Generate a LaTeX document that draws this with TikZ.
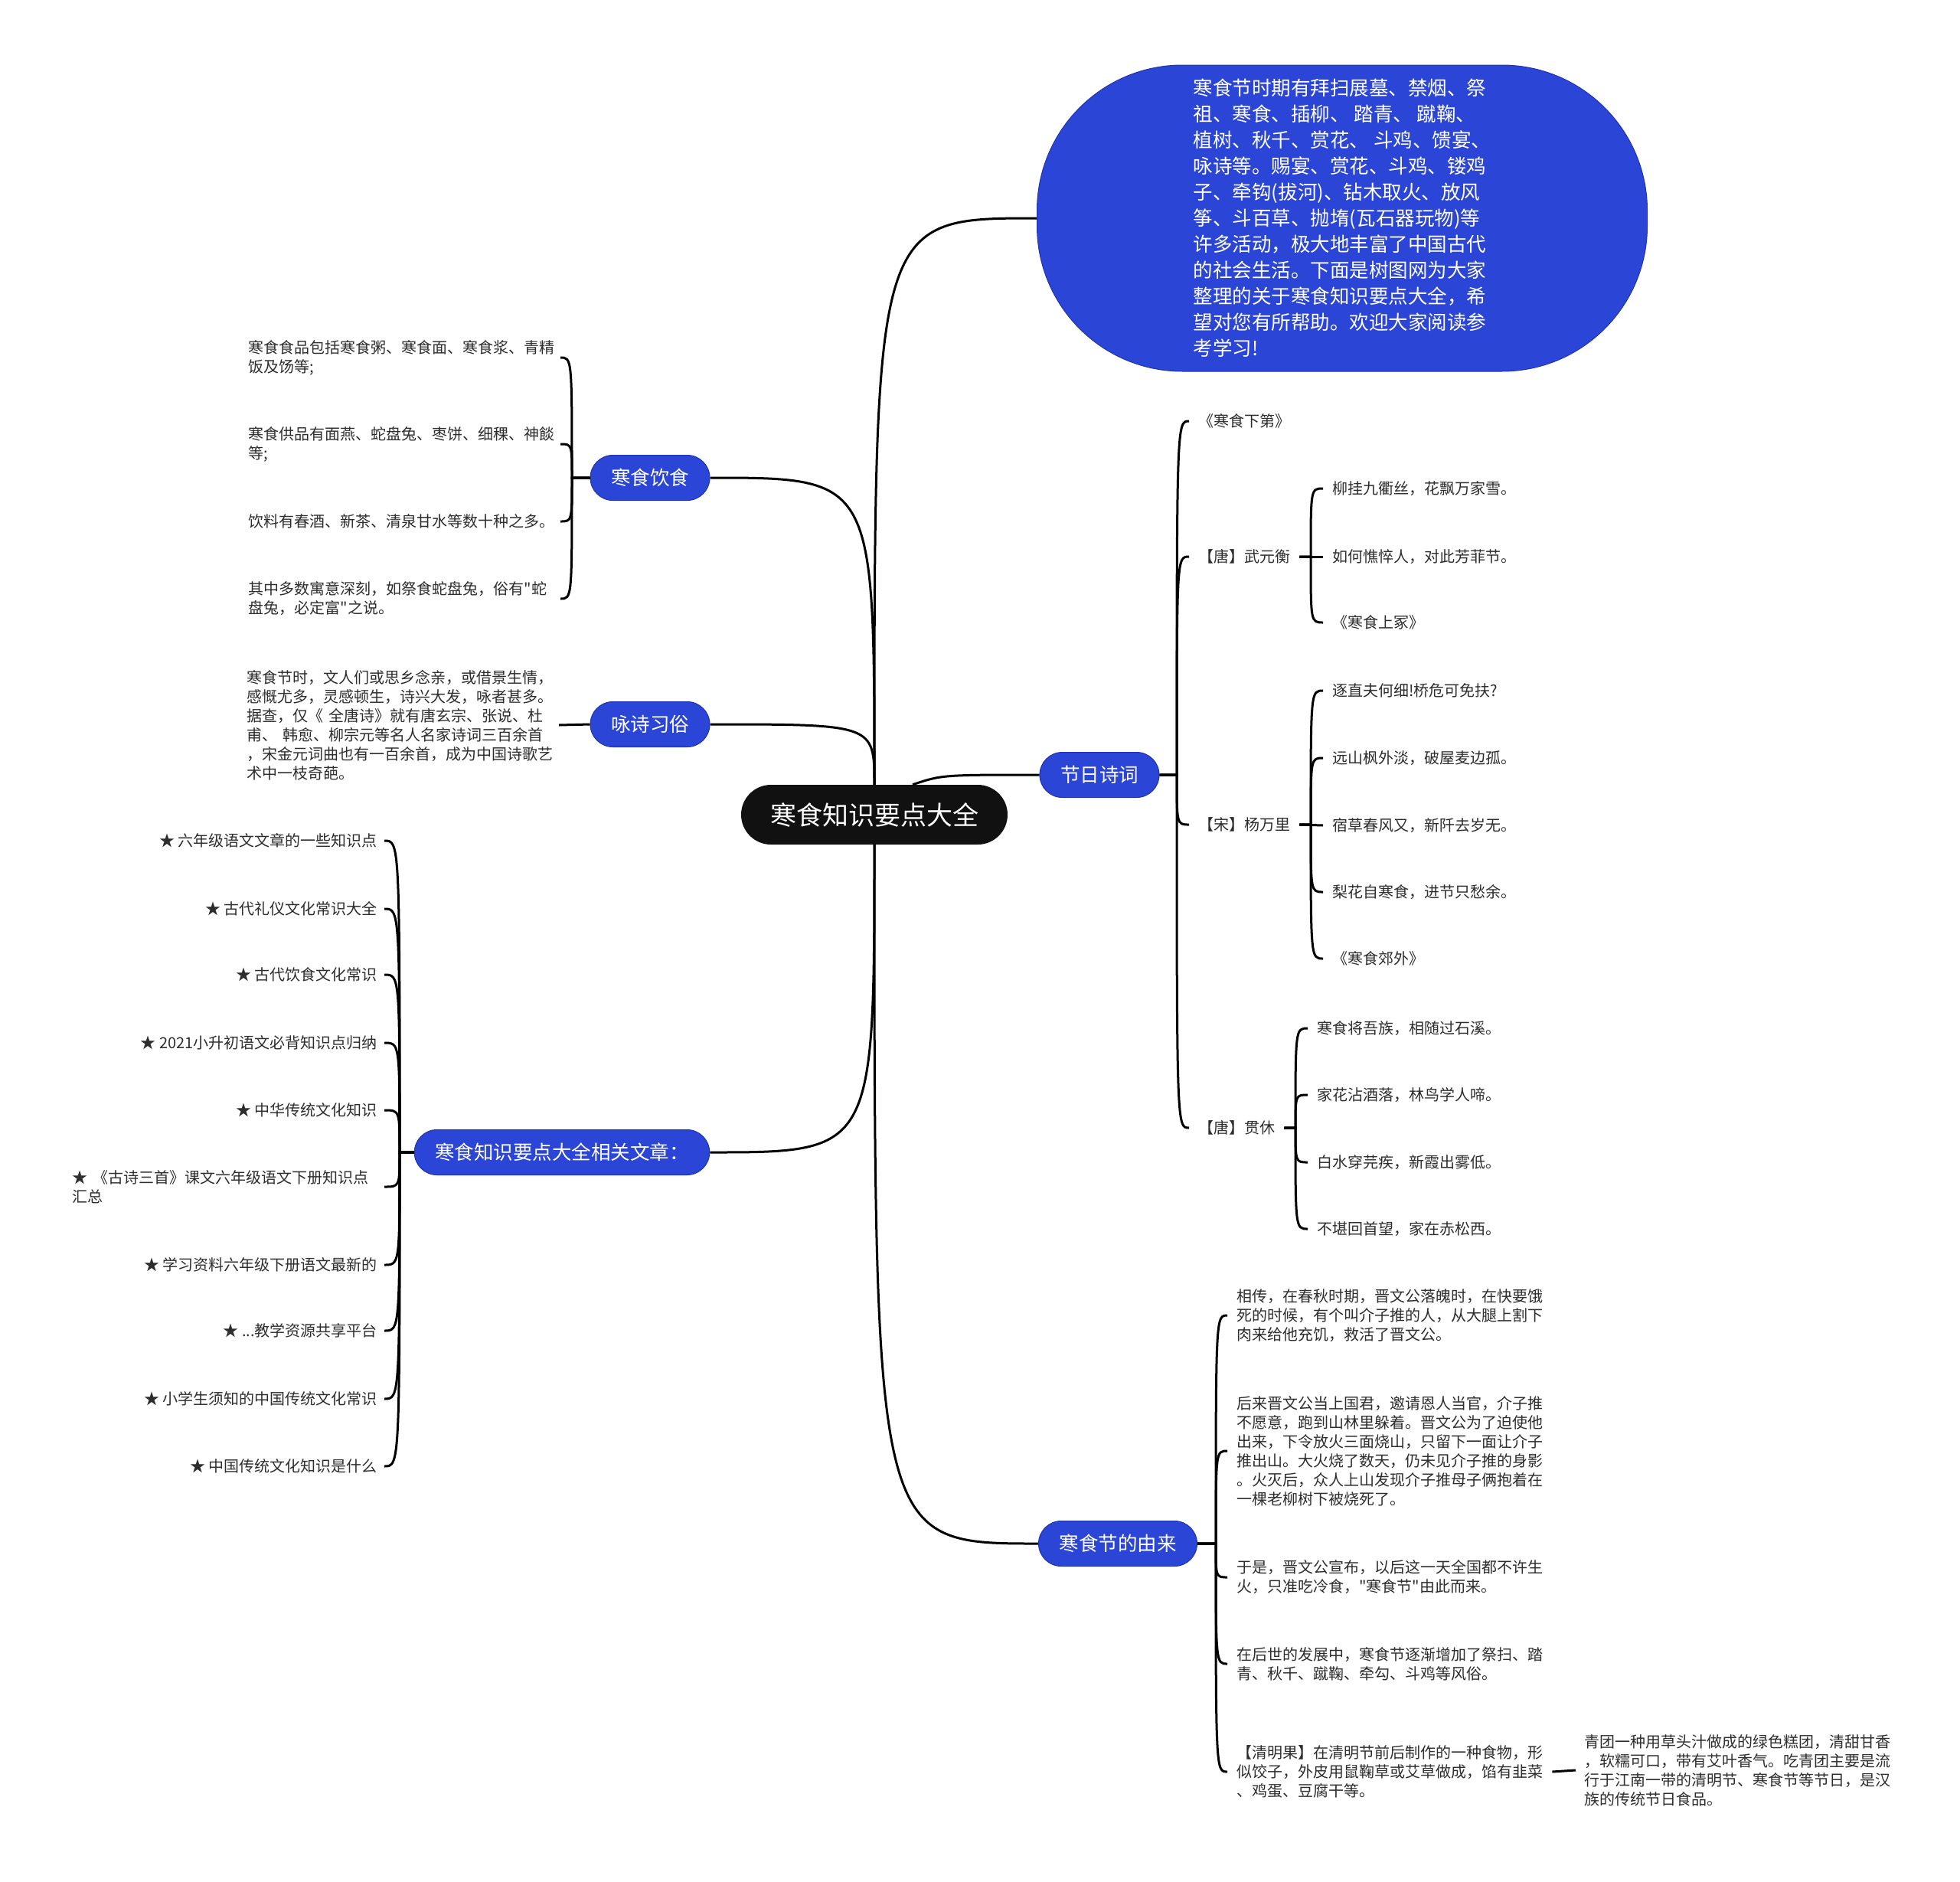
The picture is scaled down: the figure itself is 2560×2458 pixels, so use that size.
\documentclass[tikz,border=0pt]{standalone}
\usepackage{fontspec}
\setmainfont{Noto Sans CJK SC}[Ligatures=TeXOff]

\begin{document}
\begin{tikzpicture}[x=1pt,y=-1pt,
		link/.style={draw=black,line width=3pt},
		rootnode/.style={fill=mapblack,text=white,rounded corners=39pt,minimum height=78pt,inner xsep=38pt,font=\fontsize{34}{40}\selectfont},
		topic/.style={fill=mapblue,draw=mapedge,line width=1pt,text=white,rounded corners=29.5pt,minimum height=59pt,inner xsep=27pt,font=\fontsize{25.5}{30}\selectfont},
		leaf/.style={text=leafgray,inner xsep=12pt,inner ysep=2pt,align=left,anchor=west,font=\fontsize{20}{25}\selectfont},
		leftleaf/.style={leaf,anchor=east,inner xsep=0pt,text width=407pt},
		starleaf/.style={leaf,anchor=east,inner xsep=9pt}]
		\definecolor{mapblack}{RGB}{17,17,17}
		\definecolor{mapblue}{RGB}{43,69,214}
		\definecolor{mapedge}{RGB}{30,50,180}
		\definecolor{leafgray}{RGB}{45,45,45}

		\fill[white] (0,0) rectangle (2560,2458);
		\useasboundingbox (0,0) rectangle (2560,2458);

		\node[rootnode] (root) at (1142,1064) {寒食知识要点大全};

		\node[topic,minimum width=797pt,minimum height=400pt,rounded corners=190pt,align=left,font=\fontsize{25.5}{34}\selectfont] (intro) at (1753,285) {寒食节时期有拜扫展墓、禁烟、祭\\祖、寒食、插柳、 踏青、 蹴鞠、\\植树、秋千、赏花、 斗鸡、馈宴、\\咏诗等。赐宴、赏花、斗鸡、镂鸡\\子、牵钩(拔河)、钻木取火、放风\\筝、斗百草、抛堶(瓦石器玩物)等\\许多活动，极大地丰富了中国古代\\的社会生活。下面是树图网为大家\\整理的关于寒食知识要点大全，希\\望对您有所帮助。欢迎大家阅读参\\考学习!};
		\node[topic] (food) at (849,624) {寒食饮食};
		\node[topic] (custom) at (849,946) {咏诗习俗};
		\node[topic] (related) at (734,1505) {寒食知识要点大全相关文章：};
		\node[topic] (poems) at (1436,1012) {节日诗词};
		\node[topic] (origin) at (1460,2016) {寒食节的由来};

		\node[leftleaf] (f1) at (732,467) {寒食食品包括寒食粥、寒食面、寒食浆、青精\\饭及饧等;};
		\node[leftleaf] (f2) at (732,580) {寒食供品有面燕、蛇盘兔、枣饼、细稞、神餤\\等;};
		\node[leftleaf] (f3) at (732,681) {饮料有春酒、新茶、清泉甘水等数十种之多。};
		\node[leftleaf] (f4) at (732,782) {其中多数寓意深刻，如祭食蛇盘兔，俗有"蛇\\盘兔，必定富"之说。};

		\node[leftleaf] (c1) at (730,947) {寒食节时，文人们或思乡念亲，或借景生情，\\感慨尤多，灵感顿生，诗兴大发，咏者甚多。\\据查，仅《 全唐诗》就有唐玄宗、张说、杜\\甫、 韩愈、柳宗元等名人名家诗词三百余首\\，宋金元词曲也有一百余首，成为中国诗歌艺\\术中一枝奇葩。};

		\node[starleaf] (r1) at (502,1098) {★ 六年级语文文章的一些知识点};
		\node[starleaf] (r2) at (502,1187) {★ 古代礼仪文化常识大全};
		\node[starleaf] (r3) at (502,1273) {★ 古代饮食文化常识};
		\node[starleaf] (r4) at (502,1362) {★ 2021小升初语文必背知识点归纳};
		\node[starleaf] (r5) at (502,1450) {★ 中华传统文化知识};
		\node[starleaf,text width=398pt] (r6) at (502,1550) {★ 《古诗三首》课文六年级语文下册知识点\\汇总};
		\node[starleaf] (r7) at (502,1652) {★ 学习资料六年级下册语文最新的};
		\node[starleaf] (r8) at (502,1738) {★ ...教学资源共享平台};
		\node[starleaf] (r9) at (502,1827) {★ 小学生须知的中国传统文化常识};
		\node[starleaf] (r10) at (502,1915) {★ 中国传统文化知识是什么};

		\node[leaf] (p1) at (1553,550) {《寒食下第》};
		\node[leaf] (p2) at (1553,727) {【唐】武元衡};
		\node[leaf] (p3) at (1553,1077) {【宋】杨万里};
		\node[leaf] (p4) at (1553,1473) {【唐】贯休};

		\node[leaf] (w1) at (1728,638) {柳挂九衢丝，花飘万家雪。};
		\node[leaf] (w2) at (1728,727) {如何憔悴人，对此芳菲节。};
		\node[leaf] (w3) at (1728,813) {《寒食上冢》};

		\node[leaf] (y1) at (1728,902) {逐直夫何细!桥危可免扶?};
		\node[leaf] (y2) at (1728,990) {远山枫外淡，破屋麦边孤。};
		\node[leaf] (y3) at (1728,1078) {宿草春风又，新阡去岁无。};
		\node[leaf] (y4) at (1728,1165) {梨花自寒食，进节只愁余。};
		\node[leaf] (y5) at (1728,1252) {《寒食郊外》};

		\node[leaf] (g1) at (1708,1343) {寒食将吾族，相随过石溪。};
		\node[leaf] (g2) at (1708,1430) {家花沾酒落，林鸟学人啼。};
		\node[leaf] (g3) at (1708,1518) {白水穿芫疾，新霞出雾低。};
		\node[leaf] (g4) at (1708,1605) {不堪回首望，家在赤松西。};

		\node[leaf] (o1) at (1603,1718) {相传，在春秋时期，晋文公落魄时，在快要饿\\死的时候，有个叫介子推的人，从大腿上割下\\肉来给他充饥，救活了晋文公。};
		\node[leaf] (o2) at (1603,1895) {后来晋文公当上国君，邀请恩人当官，介子推\\不愿意，跑到山林里躲着。晋文公为了迫使他\\出来，下令放火三面烧山，只留下一面让介子\\推出山。大火烧了数天，仍未见介子推的身影\\。火灭后，众人上山发现介子推母子俩抱着在\\一棵老柳树下被烧死了。};
		\node[leaf] (o3) at (1603,2060) {于是，晋文公宣布，以后这一天全国都不许生\\火，只准吃冷食，"寒食节"由此而来。};
		\node[leaf] (o4) at (1603,2173) {在后世的发展中，寒食节逐渐增加了祭扫、踏\\青、秋千、蹴鞠、牵勾、斗鸡等风俗。};
		\node[leaf] (o5) at (1603,2314) {【清明果】在清明节前后制作的一种食物，形\\似饺子，外皮用鼠鞠草或艾草做成，馅有韭菜\\、鸡蛋、豆腐干等。};
		\node[leaf,inner xsep=11pt] (q1) at (2058,2312) {青团一种用草头汁做成的绿色糕团，清甜甘香\\，软糯可口，带有艾叶香气。吃青团主要是流\\行于江南一带的清明节、寒食节等节日，是汉\\族的传统节日食品。};

		\draw[link] (food.east) .. controls (1142,624) .. (root.north);
		\draw[link] (custom.east) .. controls (1142,946) .. (root.north);
		\draw[link] (related.east) .. controls (1142,1505) .. (root.south);
		\draw[link] (root.north) .. controls (1142,285) .. (intro.west);
		\draw[link] ([xshift=50pt]root.north) .. controls (1230,1012) .. (poems.west);
		\draw[link] (root.south) .. controls (1142,2016) .. (origin.west);

		\draw[link] (food.west) -- (747,624) .. controls (747,467) .. (f1.east);
		\draw[link] (food.west) -- (747,624) .. controls (747,580) .. (f2.east);
		\draw[link] (food.west) -- (747,624) .. controls (747,681) .. (f3.east);
		\draw[link] (food.west) -- (747,624) .. controls (747,782) .. (f4.east);

		\draw[link] (custom.west) -- (c1.east);

		\draw[link] (related.west) -- (522,1505) .. controls (522,1098) .. (r1.east);
		\draw[link] (related.west) -- (522,1505) .. controls (522,1187) .. (r2.east);
		\draw[link] (related.west) -- (522,1505) .. controls (522,1273) .. (r3.east);
		\draw[link] (related.west) -- (522,1505) .. controls (522,1362) .. (r4.east);
		\draw[link] (related.west) -- (522,1505) .. controls (522,1450) .. (r5.east);
		\draw[link] (related.west) -- (522,1505) .. controls (522,1550) .. (r6.east);
		\draw[link] (related.west) -- (522,1505) .. controls (522,1652) .. (r7.east);
		\draw[link] (related.west) -- (522,1505) .. controls (522,1738) .. (r8.east);
		\draw[link] (related.west) -- (522,1505) .. controls (522,1827) .. (r9.east);
		\draw[link] (related.west) -- (522,1505) .. controls (522,1915) .. (r10.east);

		\draw[link] (poems.east) -- (1537,1012) .. controls (1537,550) .. (p1.west);
		\draw[link] (poems.east) -- (1537,1012) .. controls (1537,727) .. (p2.west);
		\draw[link] (poems.east) -- (1537,1012) .. controls (1537,1077) .. (p3.west);
		\draw[link] (poems.east) -- (1537,1012) .. controls (1537,1473) .. (p4.west);

		\draw[link] (p2.east) -- (1712,727) .. controls (1712,638) .. (w1.west);
		\draw[link] (p2.east) -- (w2.west);
		\draw[link] (p2.east) -- (1712,727) .. controls (1712,813) .. (w3.west);

		\draw[link] (p3.east) -- (1712,1077) .. controls (1712,902) .. (y1.west);
		\draw[link] (p3.east) -- (1712,1077) .. controls (1712,990) .. (y2.west);
		\draw[link] (p3.east) -- (y3.west);
		\draw[link] (p3.east) -- (1712,1077) .. controls (1712,1165) .. (y4.west);
		\draw[link] (p3.east) -- (1712,1077) .. controls (1712,1252) .. (y5.west);

		\draw[link] (p4.east) -- (1692,1473) .. controls (1692,1343) .. (g1.west);
		\draw[link] (p4.east) -- (1692,1473) .. controls (1692,1430) .. (g2.west);
		\draw[link] (p4.east) -- (1692,1473) .. controls (1692,1518) .. (g3.west);
		\draw[link] (p4.east) -- (1692,1473) .. controls (1692,1605) .. (g4.west);

		\draw[link] (origin.east) -- (1588,2016) .. controls (1588,1718) .. (o1.west);
		\draw[link] (origin.east) -- (1588,2016) .. controls (1588,1895) .. (o2.west);
		\draw[link] (origin.east) -- (1588,2016) .. controls (1588,2060) .. (o3.west);
		\draw[link] (origin.east) -- (1588,2016) .. controls (1588,2173) .. (o4.west);
		\draw[link] (origin.east) -- (1588,2016) .. controls (1588,2314) .. (o5.west);

		\draw[link] (o5.east) -- (q1.west);

\end{tikzpicture}
\end{document}
